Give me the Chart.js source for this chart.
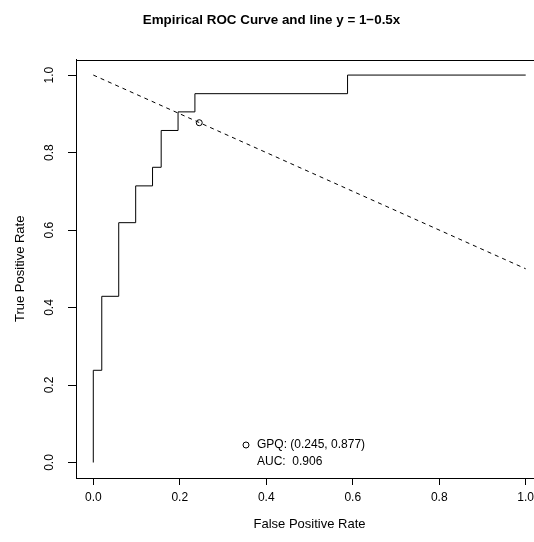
<!DOCTYPE html>
<html>
<head>
<meta charset="utf-8">
<script src="https://cdn.jsdelivr.net/npm/chart.js@4/dist/chart.umd.min.js"></script>
<style>
  html, body { margin: 0; padding: 0; background: #fff; overflow: hidden; }
  #wrap { width: 619px; height: 542px; }
</style>
</head>
<body>
<div id="wrap"><canvas id="roc"></canvas></div>
<script>
// empirical ROC corner points
var fpr = [0, 0, 0.0196, 0.0588, 0.098, 0.137, 0.157, 0.196, 0.235, 0.588, 1];
var tpr = [0, 0.238, 0.429, 0.619, 0.714, 0.762, 0.857, 0.905, 0.952, 1, 1];

// line y = 1 - 0.5x
var lineX = [0, 1];
var lineY = [1, 0.5];

// GPQ point
var gpqX = [0.245];
var gpqY = [0.877];
var aucValue = '0.906';

var tickVals = [0, 0.2, 0.4, 0.6, 0.8, 1.0];

var FONT = "'Liberation Sans', Arial, Helvetica, sans-serif";

function pts(xs, ys) {
  var out = [];
  for (var i = 0; i < xs.length; i++) out.push({x: xs[i], y: ys[i]});
  return out;
}

//draws the box round the plot and the legend text
var boxAndLegend = {
  id: 'boxAndLegend',
  afterDraw: function(chart) {
    var ctx = chart.ctx;
    var a = chart.chartArea;
    ctx.save();
    ctx.strokeStyle = '#000';
    ctx.lineWidth = 1;
    ctx.strokeRect(Math.round(a.left) + 0.5, Math.round(a.top) + 0.5,
      Math.round(a.right - a.left), Math.round(a.bottom - a.top));

    var midX = (a.left + a.right) / 2;
    var textLeft = midX - 52.5;
    var y1 = a.bottom - 33;
    var y2 = a.bottom - 16.5;
    ctx.beginPath();
    ctx.arc(textLeft - 11, y1, 3, 0, Math.PI * 2);
    ctx.stroke();
    ctx.fillStyle = '#000';
    ctx.font = '12px ' + FONT;
    ctx.textAlign = 'left';
    ctx.textBaseline = 'middle';
    ctx.fillText('GPQ: (' + gpqX[0].toFixed(3) + ', ' + gpqY[0].toFixed(3) + ')', textLeft, y1);
    ctx.fillText('AUC:  ' + aucValue, textLeft, y2);
    ctx.restore();
  }
};

var ctx = document.getElementById('roc').getContext('2d');
var chart = new Chart(ctx, {
  type: 'scatter',
  data: {
    datasets: [{
      label: 'ROC',
      data: pts(fpr, tpr),
      showLine: true,
      stepped: 'before',
      borderColor: '#000',
      borderWidth: 1,
      pointRadius: 0
    }, {
      label: 'y = 1-0.5x',
      data: pts(lineX, lineY),
      showLine: true,
      borderColor: '#000',
      borderWidth: 1,
      borderDash: [4, 4],
      pointRadius: 0
    }, {
      label: 'GPQ',
      data: pts(gpqX, gpqY),
      showLine: false,
      pointStyle: 'circle',
      pointRadius: 3,
      borderColor: '#000',
      borderWidth: 1,
      backgroundColor: 'rgba(0,0,0,0)'
    }]
  },
  options: {
    responsive: true,
    maintainAspectRatio: false,
    animation: false,
    events: [],
    layout: { padding: { left: 0, right: 76, top: 0, bottom: 0 } },
    plugins: {
      legend: { display: false },
      tooltip: { enabled: false },
      title: {
        display: true,
        text: 'Empirical ROC Curve and line y = 1\u22120.5x',
        color: '#000',
        font: { family: FONT, size: 13.4, weight: 'bold', lineHeight: 1.2 },
        padding: { top: 12, bottom: 31.5 }
      }
    },
    scales: {
      x: {
        type: 'linear',
        min: -0.04,
        max: 1.04,
        afterBuildTicks: function(scale) {
          scale.ticks = tickVals.map(function(v) { return {value: v}; });
        },
        afterFit: function(scale) { scale.height = 64; },
        grid: { drawOnChartArea: false, drawTicks: true, tickLength: 7, color: '#000', tickColor: '#000' },
        border: { display: true, color: '#000', width: 1 },
        ticks: {
          color: '#000',
          font: { family: FONT, size: 12 },
          padding: 5,
          maxRotation: 0,
          callback: function(v) { return v.toFixed(1); }
        },
        title: {
          display: true,
          text: 'False Positive Rate',
          color: '#000',
          font: { family: FONT, size: 13 },
          padding: { top: 0, bottom: 10 }
        }
      },
      y: {
        type: 'linear',
        min: -0.04,
        max: 1.04,
        afterBuildTicks: function(scale) {
          scale.ticks = tickVals.map(function(v) { return {value: v}; });
        },
        afterFit: function(scale) { scale.width = 76; },
        grid: { drawOnChartArea: false, drawTicks: true, tickLength: 8, color: '#000', tickColor: '#000' },
        border: { display: true, color: '#000', width: 1 },
        ticks: {
          color: '#000',
          font: { family: FONT, size: 12 },
          padding: 10,
          minRotation: 90,
          maxRotation: 90,
          crossAlign: 'center',
          callback: function(v) { return v.toFixed(1); }
        },
        title: {
          display: true,
          text: 'True Positive Rate',
          color: '#000',
          font: { family: FONT, size: 13 },
          padding: { top: 13, bottom: 0 }
        }
      }
    }
  },
  plugins: [boxAndLegend]
});
</script>
</body>
</html>
